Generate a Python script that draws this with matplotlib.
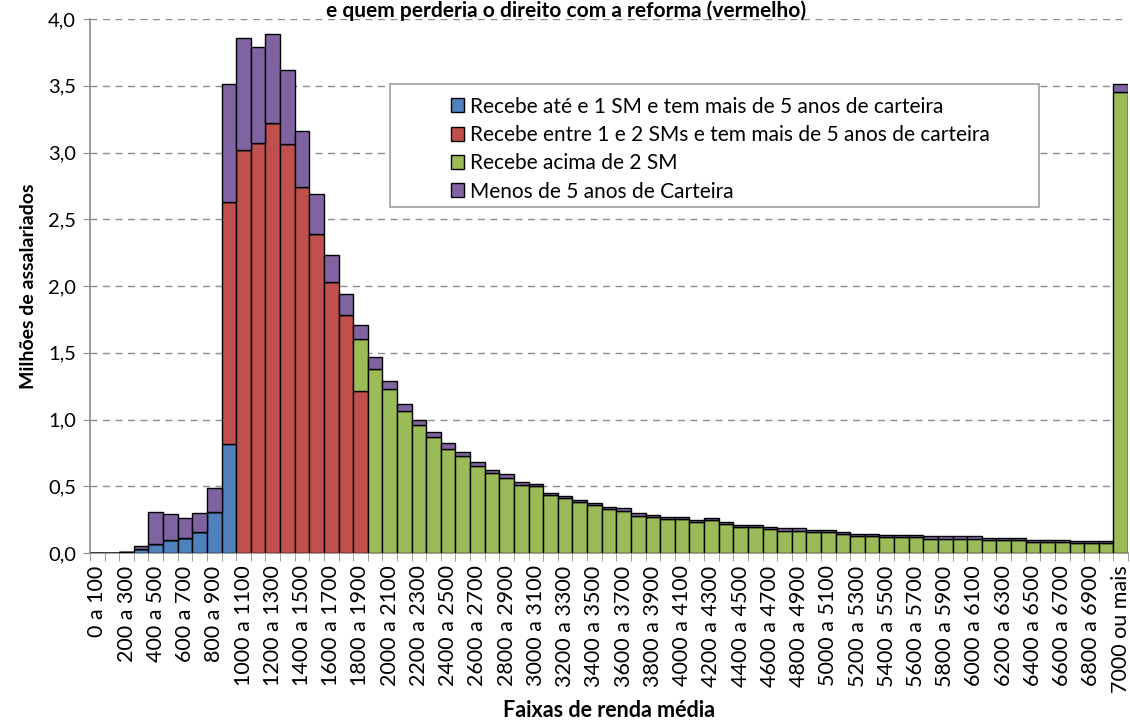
""" Assalariados por faixa de renda média, empilhado por grupo."""
import numpy as np
import matplotlib
matplotlib.use('Agg')
import matplotlib.pyplot as plt
from matplotlib.patches import Rectangle
from matplotlib.ticker import FuncFormatter, MultipleLocator

plt.rcParams['font.family'] = ['Lato', 'DejaVu Sans']

# categories: 0 a 100 ... 6900 a 7000, 7000 ou mais
faixas = ['%d a %d' % (v, v + 100) for v in range(0, 7000, 100)] + ['7000 ou mais']

# milhões de assalariados, one value per faixa
ate_1sm = [0, 0, 0.005, 0.03, 0.07, 0.10, 0.11, 0.16, 0.31, 0.82] + [0] * 61

entre_1_2sm = [0] * 9 + [1.81, 3.02, 3.07, 3.22, 3.06, 2.74, 2.39, 2.03, 1.78, 1.21] + [0] * 52

acima_2sm = [0] * 18 + [
    0.39, 1.375, 1.225, 1.06, 0.957, 0.868, 0.78, 0.728, 0.65, 0.60,
    0.565, 0.513, 0.50, 0.433, 0.41, 0.383, 0.36, 0.33, 0.318, 0.28,
    0.268, 0.255, 0.255, 0.23, 0.245, 0.218, 0.193, 0.193, 0.18, 0.168,
    0.168, 0.155, 0.155, 0.142, 0.128, 0.128, 0.118, 0.118, 0.118, 0.108,
    0.108, 0.108, 0.108, 0.095, 0.095, 0.095, 0.083, 0.083, 0.083, 0.072,
    0.072, 0.072, 3.45]

menos_5anos = [0, 0, 0.005, 0.02, 0.24, 0.19, 0.15, 0.14, 0.18, 0.88,
               0.84, 0.72, 0.67, 0.56, 0.42, 0.30, 0.20, 0.16, 0.11, 0.095,
               0.065, 0.055, 0.043, 0.042, 0.045, 0.032, 0.035, 0.02, 0.028, 0.017,
               0.018] + [0.017] * 39 + [0.06]

series_labels = ['Recebe até e 1 SM e tem mais de 5 anos de carteira',
                 'Recebe entre 1 e 2 SMs e tem mais de 5 anos de carteira',
                 'Recebe acima de 2 SM',
                 'Menos de 5 anos de Carteira']
colors = ['#4F81BD', '#C0504D', '#9BBB59', '#8064A2']

W, H = 1130, 724
fig = plt.figure(figsize=(W / 100, H / 100), dpi=100)
ax = fig.add_axes([90 / W, (H - 553) / H, 1038 / W, 534 / H])

x = np.arange(len(faixas))
bottom = np.zeros(len(faixas))
handles = []
for vals, lab, col in zip([ate_1sm, entre_1_2sm, acima_2sm, menos_5anos], series_labels, colors):
    vals = np.array(vals)
    b = ax.bar(x, vals, width=1.0, bottom=bottom, color=col, edgecolor='black',
               linewidth=1.0, label=lab, zorder=3)
    handles.append(b)
    bottom += vals

ax.set_xlim(-0.5, len(faixas) - 0.5)
ax.set_ylim(0, 4.0)

# y axis
ax.yaxis.set_major_locator(MultipleLocator(0.5))
ax.yaxis.set_major_formatter(FuncFormatter(lambda v, p: ('%.1f' % v).replace('.', ',')))
ax.grid(axis='y', color='#8c8c8c', linestyle=(0, (5, 4)), linewidth=1.0, zorder=0)
ax.tick_params(axis='y', length=5, color='#8c8c8c', labelsize=14.5, pad=5)

# x axis: labels every other faixa, ticks between categories
ax.set_xticks(x[::2])
ax.set_xticklabels(faixas[::2], rotation=90, fontsize=15.5)
ax.set_xticks(np.arange(-0.5, len(faixas), 1.0), minor=True)
ax.tick_params(axis='x', which='major', length=0, pad=9)
ax.tick_params(axis='x', which='minor', length=6, color='#8c8c8c')

for side in ['top', 'right']:
    ax.spines[side].set_visible(False)
for side in ['left', 'bottom']:
    ax.spines[side].set_color('#8c8c8c')
    ax.spines[side].set_linewidth(1.2)

ax.set_ylabel('Milhões de assalariados', fontsize=14, fontweight='bold', labelpad=8)
ax.set_xlabel('Faixas de renda média', fontsize=15.5, fontweight='bold', labelpad=5)

# legend box drawn by hand (excel style, wide left margin)
frame = Rectangle((390 / W, (H - 207) / H), (1039 - 390) / W, 123 / H,
                  transform=fig.transFigure, facecolor='white', edgecolor='#a0a0a0',
                  linewidth=1.2, zorder=4)
fig.patches.append(frame)
leg = fig.legend(handles, series_labels, loc='upper left',
                 bbox_to_anchor=(434 / W, (H - 80) / H), frameon=False,
                 fontsize=15, handlelength=0.65, handleheight=0.65,
                 handletextpad=0.3, labelspacing=0.4, borderpad=0.3)
leg.set_zorder(5)

# title (cut off in the source image, kept just inside here)
fig.text(566 / W, (H - 0) / H, 'e quem perderia o direito com a reforma (vermelho)',
         ha='center', va='top', fontsize=15, fontweight='bold')

fig.savefig('out.png', dpi=100)
